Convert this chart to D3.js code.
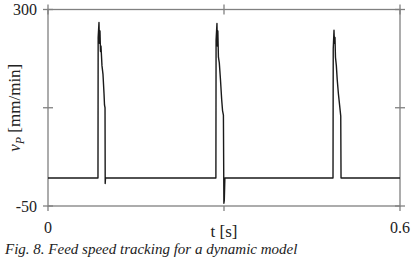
<!DOCTYPE html>
<html>
<head>
<meta charset="utf-8">
<script src="https://cdn.jsdelivr.net/npm/d3@7"></script>
<style>
  body { margin: 0; background: #fff; }
  text { font-family: "Liberation Serif", "DejaVu Serif", serif; fill: #222; }
</style>
</head>
<body>
<div id="chart"></div>
<script>
// feed speed samples: time [s] and v_p [mm/min]
const timeVals = [
  0, 0.0852, 0.0855, 0.0869, 0.0877, 0.0886, 0.0895, 0.0903, 0.0920, 0.0937, 0.0955, 0.0963, 0.0972, 0.0975, 0.0980, 0.0990,
  0.2862, 0.2865, 0.2880, 0.2887, 0.2895, 0.2905, 0.2920, 0.2940, 0.2960, 0.2975, 0.2990, 0.2998, 0.3005, 0.3015,
  0.4858, 0.4862, 0.4875, 0.4882, 0.4892, 0.4900, 0.4915, 0.4930, 0.4950, 0.4970, 0.4990, 0.4995, 0.6
];
const speedVals = [
  0, 0, 250, 277, 240, 262, 225, 235, 200, 185, 150, 130, 125, -10, 0, 0,
  0, 245, 275, 235, 262, 215, 205, 175, 140, 120, 112, -45, -40, 0,
  0, 230, 263, 240, 250, 215, 200, 175, 150, 130, 110, 0, 0
];
const xTicks = [0, 0.3, 0.6];
const xTickLabels = ["0", "", "0.6"];
const yTicks = [-50, 125, 300];
const yTickLabels = ["-50", "", "300"];

const totalWidth = 412, totalHeight = 258;
const margin = { top: 9.5, left: 48, right: 12, bottom: 52 };
const w = totalWidth - margin.left - margin.right;
const h = totalHeight - margin.top - margin.bottom;

const svg = d3.select("#chart").append("svg")
  .attr("width", totalWidth)
  .attr("height", totalHeight);

const g = svg.append("g")
  .attr("transform", `translate(${margin.left},${margin.top})`);

const xScale = d3.scaleLinear().domain([0, 0.6]).range([0, w]);
const yScale = d3.scaleLinear().domain([-50, 300]).range([h, 0]);

const frameColor = "#808080";

// frame
g.append("rect")
  .attr("x", 0).attr("y", 0)
  .attr("width", w).attr("height", h)
  .attr("fill", "none")
  .attr("stroke", frameColor)
  .attr("stroke-width", 1.3);

// y ticks, crossing the left and right frame
[0, w].forEach((x0) => {
  g.selectAll(null).data(yTicks).enter().append("line")
    .attr("x1", x0 - 5).attr("x2", x0 + 5)
    .attr("y1", (d) => yScale(d)).attr("y2", (d) => yScale(d))
    .attr("stroke", frameColor).attr("stroke-width", 1.3);
});

// x ticks: outward on bottom, crossing on top
g.selectAll(null).data(xTicks).enter().append("line")
  .attr("x1", (d) => xScale(d)).attr("x2", (d) => xScale(d))
  .attr("y1", h).attr("y2", h + 5)
  .attr("stroke", frameColor).attr("stroke-width", 1.3);
g.selectAll(null).data(xTicks).enter().append("line")
  .attr("x1", (d) => xScale(d)).attr("x2", (d) => xScale(d))
  .attr("y1", -5).attr("y2", 5)
  .attr("stroke", frameColor).attr("stroke-width", 1.3);

// tick labels
g.selectAll(null).data(yTicks).enter().append("text")
  .attr("x", -11)
  .attr("y", (d) => yScale(d))
  .attr("dy", "0.35em")
  .attr("text-anchor", "end")
  .style("font-size", "16px")
  .text((d, i) => yTickLabels[i]);

g.selectAll(null).data(xTicks).enter().append("text")
  .attr("x", (d) => xScale(d))
  .attr("y", h + 21)
  .attr("dy", "0.35em")
  .attr("text-anchor", "middle")
  .style("font-size", "16px")
  .text((d, i) => xTickLabels[i]);

// axis titles
g.append("text")
  .attr("x", xScale(0.3))
  .attr("y", h + 25)
  .attr("dy", "0.35em")
  .attr("text-anchor", "middle")
  .style("font-size", "17px")
  .text("t [s]");

const yLabel = svg.append("text")
  .attr("transform", `translate(20,${margin.top + yScale(125)}) rotate(-90)`)
  .attr("text-anchor", "middle")
  .style("font-size", "17px");
yLabel.append("tspan").style("font-style", "italic").text("v");
yLabel.append("tspan").style("font-style", "italic").style("font-size", "12px").attr("dy", 4).text("P");
yLabel.append("tspan").attr("dy", -4).text(" [mm/min]");

// caption at the bottom edge
svg.append("text")
  .attr("x", 5)
  .attr("y", 254)
  .style("font-size", "15px")
  .style("font-style", "italic")
  .text("Fig. 8. Feed speed tracking for a dynamic model");

// signal
const line = d3.line()
  .x((d) => xScale(d[0]))
  .y((d) => yScale(d[1]));

g.append("path")
  .attr("fill", "none")
  .attr("stroke", "#1a1a1a")
  .attr("stroke-width", 1.4)
  .attr("stroke-linejoin", "round")
  .attr("d", line(timeVals.map((t, i) => [t, speedVals[i]])));
</script>
</body>
</html>
